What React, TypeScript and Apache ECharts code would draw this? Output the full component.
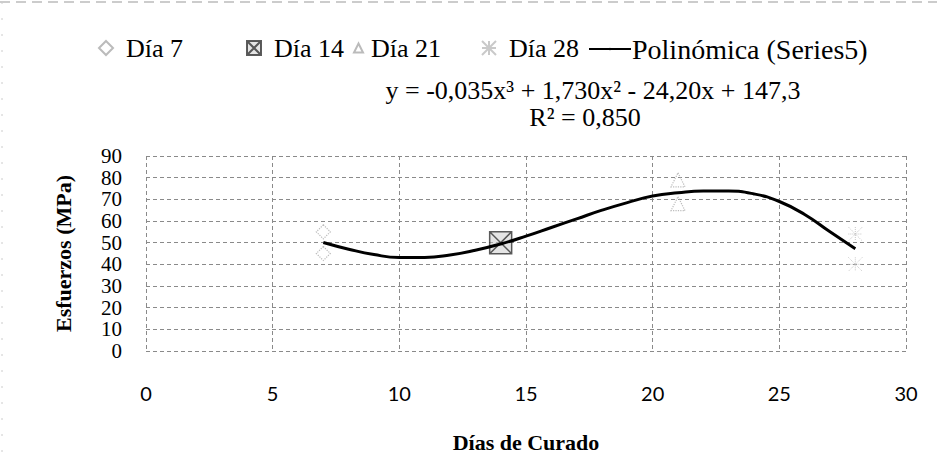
import React, { useEffect, useRef } from "react";
import * as echarts from "echarts";

// ---- data ----
const dia7X = [7, 7];
const dia7Y = [55, 45];
const dia14X = [14];
const dia14Y = [50];
const dia21X = [21, 21];
const dia21Y = [79, 68];
const dia28X = [28, 28];
const dia28Y = [54, 40];

// trend line (polynomial)
const trendX = [7, 8, 9, 10, 11, 12, 13, 14, 15, 16, 17, 18, 19, 20, 21, 22, 23, 24, 25, 26, 27, 28];
const trendY = [50.1, 47, 44.5, 43.2, 43.2, 44.3, 46.5, 49.4, 53, 57, 61, 65, 68.5, 71.5, 73, 73.8, 73.8, 72.5, 69, 63, 55, 47.2];

const seriesNames = ["Día 7", "Día 14", "Día 21", "Día 28", "Polinómica (Series5)"];
const equationText = "y = -0,035x³ + 1,730x² - 24,20x + 147,3";
const r2Text = "R² = 0,850";
const xAxisTitle = "Días de Curado";
const yAxisTitle = "Esfuerzos (MPa)";

const SERIF = "'Liberation Serif', 'Times New Roman', serif";
const SANS = "Lato, 'Open Sans', sans-serif";

const zip = (xs: number[], ys: number[]) => xs.map((x, i) => [x, ys[i]]);

const squareX = "path://M0,0 L10,0 L10,10 L0,10 Z M0,0 L10,10 M10,0 L0,10";
const starX = "path://M0,0 L10,10 M10,0 L0,10 M5,0 L5,10 M0,5 L10,5";

export default function App() {
  const ref = useRef<HTMLDivElement>(null);
  useEffect(() => {
    if (!ref.current) return;
    const chart = echarts.init(ref.current, undefined, { renderer: "svg" });
    const legendBase = {
      top: 30,
      itemWidth: 14,
      itemHeight: 14,
      textStyle: { fontFamily: SERIF, fontSize: 26, color: "#000", padding: [0, 0, 0, 8] },
      selectedMode: false,
    };
    const faint = { color: "rgba(255,255,255,0)", borderColor: "#aaa", borderWidth: 1.2, borderType: "dotted" };
    chart.setOption({
      animation: false,
      backgroundColor: "#fff",
      legend: [
        { ...legendBase, left: 93, data: [seriesNames[0]] },
        { ...legendBase, left: 241, data: [seriesNames[1]] },
        {
          ...legendBase,
          left: 348,
          itemWidth: 9,
          itemHeight: 9,
          textStyle: { ...legendBase.textStyle, padding: [0, 0, 0, 3] },
          data: [seriesNames[2]],
        },
        { ...legendBase, left: 476, data: [seriesNames[3]] },
        {
          ...legendBase,
          left: 583,
          itemWidth: 42,
          itemHeight: 3,
          textStyle: { ...legendBase.textStyle, fontSize: 28, padding: [0, 0, 0, -4] },
          data: [seriesNames[4]],
        },
      ],
      grid: { left: 146, right: 31, top: 156, bottom: 114 },
      xAxis: {
        type: "value",
        min: 0,
        max: 30,
        interval: 5,
        name: xAxisTitle,
        nameLocation: "middle",
        nameGap: 80,
        nameTextStyle: { fontFamily: SERIF, fontSize: 22, fontWeight: "bold", color: "#000" },
        axisLine: { show: false },
        axisTick: { show: false },
        axisLabel: { fontFamily: SANS, fontSize: 20, color: "#000", margin: 32 },
        splitLine: { show: true, lineStyle: { color: "#8a8a8a", width: 1, type: [4, 3] } },
      },
      yAxis: {
        type: "value",
        min: 0,
        max: 90,
        interval: 10,
        name: yAxisTitle,
        nameLocation: "middle",
        nameGap: 72,
        nameRotate: 90,
        nameTextStyle: { fontFamily: SERIF, fontSize: 22, fontWeight: "bold", color: "#000" },
        axisLine: { show: false },
        axisTick: { show: false },
        axisLabel: {
          fontFamily: SERIF,
          fontSize: 21,
          color: "#000",
          margin: 24,
          lineHeight: 20,
          padding: 0,
          showMinLabel: true,
          showMaxLabel: true,
          hideOverlap: false,
        },
        splitLine: { show: true, lineStyle: { color: "#8a8a8a", width: 1, type: [4, 3] } },
      },
      series: [
        {
          name: seriesNames[0],
          type: "scatter",
          symbol: "diamond",
          symbolSize: 14,
          itemStyle: faint,
          data: zip(dia7X, dia7Y),
          z: 3,
        },
        {
          name: seriesNames[1],
          type: "scatter",
          symbol: squareX,
          symbolSize: 22,
          itemStyle: { color: "rgba(200,200,200,0.6)", borderColor: "#333", borderWidth: 1.5 },
          data: zip(dia14X, dia14Y),
          z: 3,
        },
        {
          name: seriesNames[2],
          type: "scatter",
          symbol: "triangle",
          symbolSize: 14,
          itemStyle: faint,
          data: zip(dia21X, dia21Y),
          z: 3,
        },
        {
          name: seriesNames[3],
          type: "scatter",
          symbol: starX,
          symbolSize: 14,
          itemStyle: { color: "rgba(255,255,255,0)", borderColor: "#bbb", borderWidth: 1, borderType: "dotted" },
          data: zip(dia28X, dia28Y),
          z: 3,
        },
        {
          name: seriesNames[4],
          type: "line",
          smooth: true,
          symbol: "none",
          lineStyle: { color: "#000", width: 3 },
          itemStyle: { color: "#000" },
          data: zip(trendX, trendY),
          z: 4,
        },
      ],
      graphic: [
        {
          type: "text",
          x: 593,
          y: 90,
          style: { text: equationText, fontFamily: SERIF, fontSize: 26, fill: "#000", align: "center", verticalAlign: "middle" },
        },
        {
          type: "text",
          x: 585,
          y: 117,
          style: { text: r2Text, fontFamily: SERIF, fontSize: 26, fill: "#000", align: "center", verticalAlign: "middle" },
        },
        {
          type: "line",
          shape: { x1: 0, y1: 2, x2: 937, y2: 2 },
          style: { stroke: "#999", lineWidth: 1, lineDash: [10, 6] },
        },
        {
          type: "line",
          shape: { x1: 2, y1: 2, x2: 2, y2: 465 },
          style: { stroke: "#ccc", lineWidth: 1, lineDash: [2, 14] },
        },
      ],
    });
    return () => chart.dispose();
  }, []);
  return <div ref={ref} style={{ width: 937, height: 465, position: "absolute", left: 0, top: 0 }} />;
}
